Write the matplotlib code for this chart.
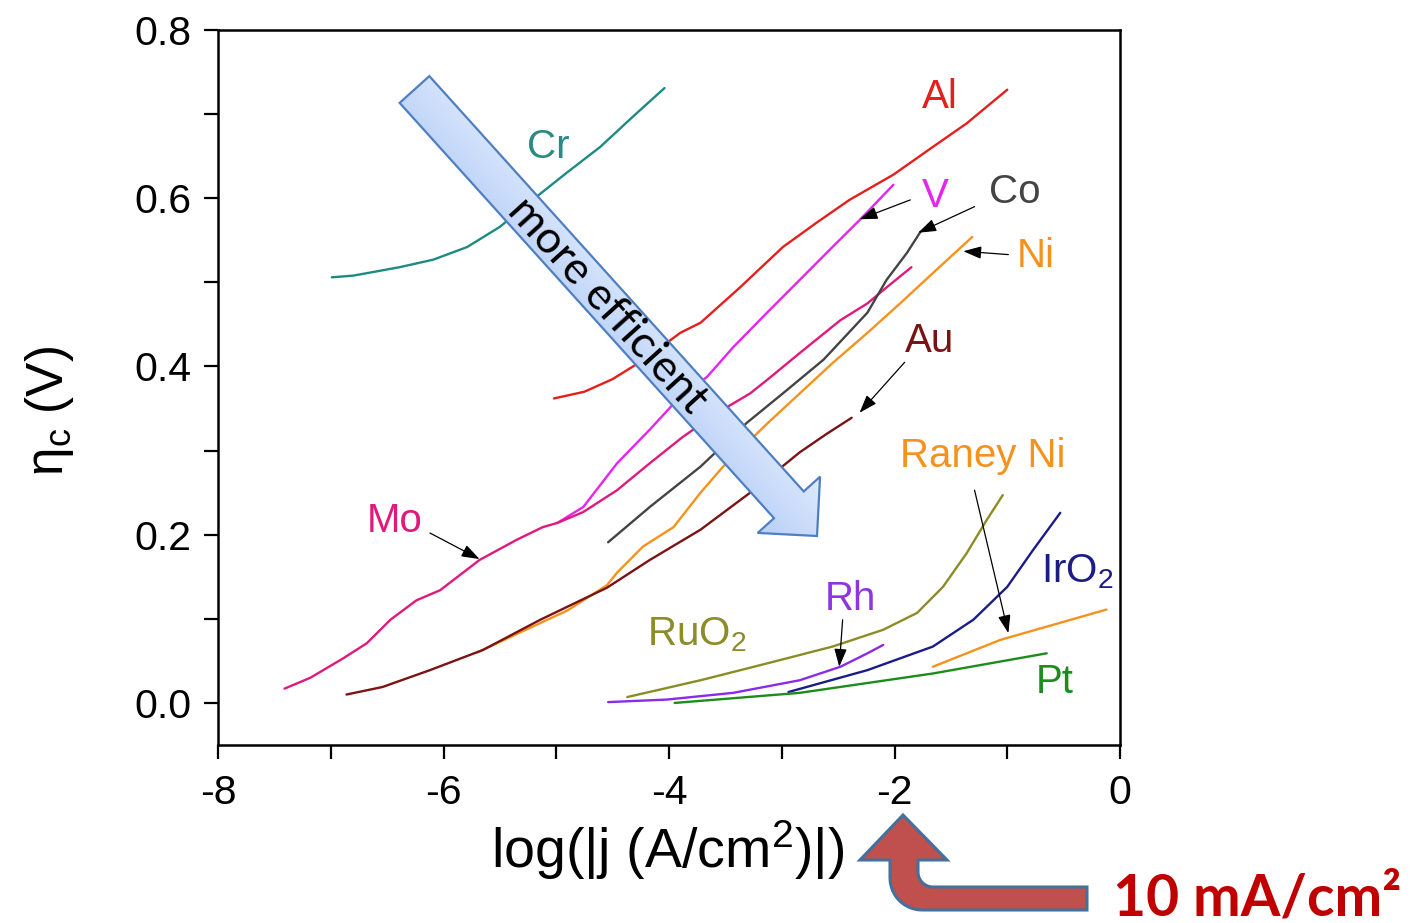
import matplotlib

matplotlib.use("Agg")
import matplotlib.pyplot as plt
import numpy as np
from matplotlib.patches import Polygon

# cathodic overpotential vs log current density
cr_x = [-6.99, -6.80, -6.39, -6.09, -5.79, -5.50, -5.21, -4.91, -4.61, -4.32, -4.04]
cr_y = [0.506, 0.508, 0.518, 0.527, 0.542, 0.566, 0.598, 0.630, 0.661, 0.697, 0.731]

al_x = [-5.02, -4.75, -4.50, -4.20, -3.90, -3.72, -3.37, -2.99, -2.69, -2.40, -2.01, -1.66, -1.36, -1.00]
al_y = [0.362, 0.370, 0.385, 0.410, 0.440, 0.452, 0.494, 0.542, 0.571, 0.598, 0.628, 0.661, 0.689, 0.729]

v_x = [-4.99, -4.76, -4.46, -4.17, -3.93, -3.66, -3.43, -3.13, -2.84, -2.55, -2.31, -2.01]
v_y = [0.214, 0.233, 0.285, 0.325, 0.360, 0.388, 0.423, 0.464, 0.503, 0.542, 0.574, 0.616]

mo_x = [-7.41, -7.18, -6.89, -6.68, -6.47, -6.24, -6.03, -5.68, -5.35, -5.12, -4.99, -4.76,
        -4.46, -4.17, -3.88, -3.57, -3.28, -3.13, -2.84, -2.48, -2.24, -2.07, -1.85]
mo_y = [0.017, 0.030, 0.053, 0.071, 0.099, 0.122, 0.134, 0.170, 0.194, 0.209, 0.214, 0.227,
        0.253, 0.285, 0.316, 0.345, 0.368, 0.384, 0.416, 0.455, 0.475, 0.494, 0.518]

co_x = [-4.54, -4.17, -3.72, -3.31, -2.99, -2.63, -2.24, -2.07, -1.89, -1.77]
co_y = [0.191, 0.233, 0.281, 0.333, 0.368, 0.408, 0.464, 0.503, 0.535, 0.560]

ni_x = [-5.70, -5.35, -4.90, -4.55, -4.46, -4.23, -3.96, -3.72, -3.52, -3.13, -2.84, -2.55,
        -2.24, -1.95, -1.66, -1.31]
ni_y = [0.060, 0.082, 0.110, 0.140, 0.155, 0.186, 0.209, 0.250, 0.281, 0.332, 0.368, 0.404,
        0.440, 0.475, 0.511, 0.554]

au_x = [-6.86, -6.54, -6.12, -5.65, -5.14, -4.55, -4.17, -3.72, -3.28, -2.84, -2.60, -2.38]
au_y = [0.010, 0.019, 0.039, 0.063, 0.099, 0.137, 0.170, 0.206, 0.250, 0.298, 0.320, 0.339]

ruo2_x = [-4.37, -3.72, -3.13, -2.55, -2.10, -1.80, -1.57, -1.36, -1.18, -1.04]
ruo2_y = [0.007, 0.027, 0.047, 0.067, 0.087, 0.107, 0.138, 0.178, 0.218, 0.247]

rh_x = [-4.54, -4.02, -3.43, -2.84, -2.48, -2.24, -2.10]
rh_y = [0.001, 0.004, 0.012, 0.027, 0.043, 0.059, 0.069]

iro2_x = [-2.94, -2.24, -1.66, -1.30, -1.00, -0.77, -0.53]
iro2_y = [0.013, 0.039, 0.067, 0.099, 0.138, 0.182, 0.226]

raney_x = [-1.66, -1.06, -0.12]
raney_y = [0.043, 0.075, 0.111]

pt_x = [-3.95, -2.84, -1.66, -0.65]
pt_y = [0.000, 0.012, 0.035, 0.059]

ORANGE = "#f5921e"
series = [
    ("Cr", cr_x, cr_y, "#1e8a82"),
    ("Al", al_x, al_y, "#e41f1c"),
    ("V", v_x, v_y, "#e524ec"),
    ("Mo", mo_x, mo_y, "#e01a7c"),
    ("Co", co_x, co_y, "#444444"),
    ("Ni", ni_x, ni_y, ORANGE),
    ("Au", au_x, au_y, "#7a1414"),
    ("RuO2", ruo2_x, ruo2_y, "#8c8c24"),
    ("Rh", rh_x, rh_y, "#8a2be8"),
    ("IrO2", iro2_x, iro2_y, "#1c1c86"),
    ("Raney Ni", raney_x, raney_y, ORANGE),
    ("Pt", pt_x, pt_y, "#1c8c1c"),
]

# label text, anchor (x, baseline y) in data units, colour
labels = [
    ("Cr", -5.07, 0.648, "#2a8a85"),
    ("Al", -1.60, 0.707, "#e41f1c"),
    ("V", -1.64, 0.590, "#e524ec"),
    ("Co", -0.93, 0.594, "#444444"),
    ("Ni", -0.75, 0.518, ORANGE),
    ("Au", -1.69, 0.417, "#7a1414"),
    ("Mo", -6.43, 0.203, "#e01a7c"),
    ("Raney Ni", -1.22, 0.281, ORANGE),
    ("IrO$_\\mathrm{2}$", -0.38, 0.143, "#1c1c86"),
    ("Rh", -2.39, 0.110, "#8f35e0"),
    ("RuO$_\\mathrm{2}$", -3.75, 0.069, "#8c8c2a"),
    ("Pt", -0.58, 0.012, "#1c8c1c"),
]

# pointer arrows: (tail, head) in data units
pointers = [
    ((-1.86, 0.598), (-2.31, 0.575)),   # V
    ((-1.29, 0.590), (-1.79, 0.559)),   # Co
    ((-0.99, 0.533), (-1.39, 0.537)),   # Ni
    ((-1.91, 0.405), (-2.31, 0.345)),   # Au
    ((-6.12, 0.202), (-5.68, 0.171)),   # Mo
    ((-2.46, 0.099), (-2.49, 0.043)),   # Rh
    ((-1.29, 0.253), (-0.99, 0.083)),   # Raney Ni
]

plt.rcParams.update(
    {
        "font.family": "Liberation Sans",
        "mathtext.fontset": "custom",
        "mathtext.rm": "Liberation Sans",
        "mathtext.it": "Liberation Sans:italic",
        "mathtext.bf": "Liberation Sans:bold",
        "axes.unicode_minus": False,
    }
)

W, H = 1416, 923
fig = plt.figure(figsize=(W / 100, H / 100), dpi=100)
ax = fig.add_axes([218 / W, 1 - 745 / H, 902 / W, 715 / H])

for name, xs, ys, color in series:
    ax.plot(xs, ys, color=color, lw=1.7, solid_capstyle="round")

for text, x, y, color in labels:
    ax.text(x, y, text, color=color, fontsize=29, ha="center", va="baseline")

for tail, head in pointers:
    ax.annotate(
        "",
        xy=head,
        xytext=tail,
        arrowprops=dict(
            arrowstyle="-|>,head_length=1.0,head_width=0.35",
            color="black",
            lw=0.9,
            mutation_scale=11,
            shrinkA=0,
            shrinkB=0,
        ),
    )

ax.set_xlim(-8, 0)
ax.set_ylim(-0.05, 0.8)
ax.set_xticks([-8, -6, -4, -2, 0])
ax.set_xticks([-7, -5, -3, -1], minor=True)
ax.set_yticks([0.0, 0.2, 0.4, 0.6, 0.8])
ax.set_yticklabels(["0.0", "0.2", "0.4", "0.6", "0.8"])
ax.set_yticks([0.1, 0.3, 0.5, 0.7], minor=True)
ax.tick_params(which="both", direction="out", length=10, width=1.6, top=False, right=False)
ax.tick_params(axis="x", which="both", labelsize=29.5, pad=11)
ax.tick_params(axis="y", which="both", labelsize=29.5, pad=9)
for sp in ax.spines.values():
    sp.set_linewidth(1.8)

fig.text(668 / W, 1 - 850 / H, "log(|j (A/cm$^\\mathrm{2}$)|)", fontsize=40, ha="center", va="center")
fig.text(50 / W, 1 - 411 / H, "$\\mathrm{η_c}$ (V)", fontsize=37, rotation=90, ha="center", va="center")

# overlay in pixel coordinates for the decorative arrows
ov = fig.add_axes([0, 0, 1, 1], zorder=5)
ov.axis("off")

# "more efficient" block arrow
tail = np.array([414.5, 89.5])
tip = np.array([817.0, 536.0])
u = (tip - tail) / np.linalg.norm(tip - tail)
n = np.array([-u[1], u[0]])
base = tip - 42 * u
pts = [tail + 20 * n, base + 20 * n, base + 42 * n, tip, base - 42 * n, base - 20 * n, tail - 20 * n]
arrow = Polygon(pts, closed=True, facecolor="none", edgecolor="#4f7fc0", lw=1.6, zorder=3)
ov.add_patch(arrow)
gx, gy = np.meshgrid(np.arange(380, 860), np.arange(60, 560))
t = ((gx - tail[0]) * n[0] + (gy - tail[1]) * n[1]) / 84 + 0.5
t = np.clip(t, 0, 1)
c_a = np.array([0.87, 0.92, 0.99])
c_b = np.array([0.72, 0.81, 0.97])
img = c_a[None, None, :] * (1 - t[..., None]) + c_b[None, None, :] * t[..., None]
im = ov.imshow(img, extent=(380, 860, 560, 60), origin="upper", aspect="auto", zorder=2)
im.set_clip_path(arrow)
ov.text(607, 305, "more efficient", rotation=-47.9, rotation_mode="anchor",
        ha="center", va="center", fontsize=32, family="Lato", zorder=4)

# bent-up arrow pointing at 10 mA/cm2
def arc(cx, cy, r, a0, a1, k=12):
    a = np.radians(np.linspace(a0, a1, k))
    return list(zip(cx + r * np.cos(a), cy + r * np.sin(a)))

verts = [(1087, 887), (933, 887)]
verts += arc(933, 872, 15, 90, 180)
verts += [(918, 860), (947, 860), (903, 815), (860, 860), (890, 860), (890, 878)]
verts += arc(922, 878, 32, 180, 90)
verts += [(1087, 910)]
bent = Polygon(verts, closed=True, facecolor="#c0504d", edgecolor="#41719c", lw=2.2, joinstyle="miter", zorder=3)
ov.add_patch(bent)
ov.text(1113, 915, "10 mA/cm²", color="#c00000", fontsize=41, fontweight="bold",
        family="Lato", ha="left", va="baseline", zorder=4)

ov.set_xlim(0, W)
ov.set_ylim(H, 0)

fig.savefig("out.png", dpi=100)
